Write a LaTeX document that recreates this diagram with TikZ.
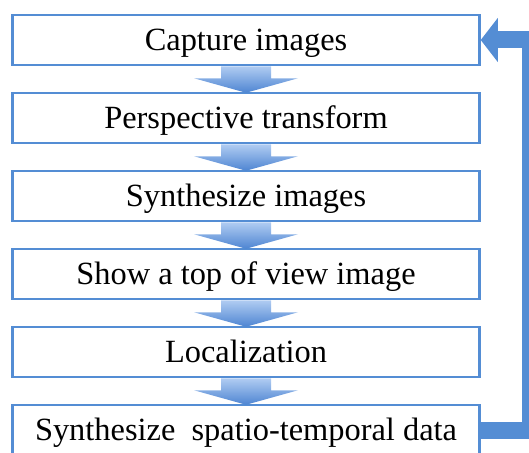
\documentclass[tikz,border=0pt]{standalone}
\usepackage{fontspec}
\setmainfont{Liberation Serif}
\usetikzlibrary{calc}

\definecolor{flowblue}{RGB}{84,141,212}
\definecolor{arrowtop}{RGB}{176,204,242}
\definecolor{arrowbot}{RGB}{78,133,210}

\newcommand{\blockarrow}[2]{%
  \shade[top color=arrowtop, bottom color=arrowbot]
    ($(#1.south)+(-25,0)$) -- ($(#1.south)+(25,0)$) -- ($(#1.south)+(25,12)$)
    -- ($(#1.south)+(52,12)$) -- ($(#2.north)+(0,1)$)
    -- ($(#1.south)+(-52,12)$) -- ($(#1.south)+(-25,12)$) -- cycle;}

\begin{document}
\begin{tikzpicture}[x=1pt,y=-1pt]
   \clip (0,0) rectangle (529,452);
   \begin{scope}[every node/.style={rectangle,draw=flowblue,line width=2.5pt,fill=white,
       minimum width=467pt,minimum height=50pt,inner sep=0pt,text height=25pt,text depth=5pt,
       font=\fontsize{32.4}{38}\selectfont}]
    \node (capture) at (246,40) {Capture images};
    \node (persp) at (246,118) {Perspective transform};
    \node (synth) at (246,196) {Synthesize images};
    \node (topview) at (246,274) {Show a top of view image};
    \node (localize) at (246,352) {Localization};
    \node (spatio) at (246,430) {Synthesize\ \ spatio-temporal data};
   \end{scope}
   \blockarrow{capture}{persp}
   \blockarrow{persp}{synth}
   \blockarrow{synth}{topview}
   \blockarrow{topview}{localize}
   \blockarrow{localize}{spatio}
   \coordinate (headbase) at ($(capture.east)+(17,0)$);
   \draw[flowblue,line width=17pt,line join=miter] (spatio.east) -- ++(50,0) |- (headbase);
   \fill[flowblue] ($(headbase)+(0,-22)$) -- (capture.east) -- ($(headbase)+(0,22)$) -- cycle;
\end{tikzpicture}
\end{document}
